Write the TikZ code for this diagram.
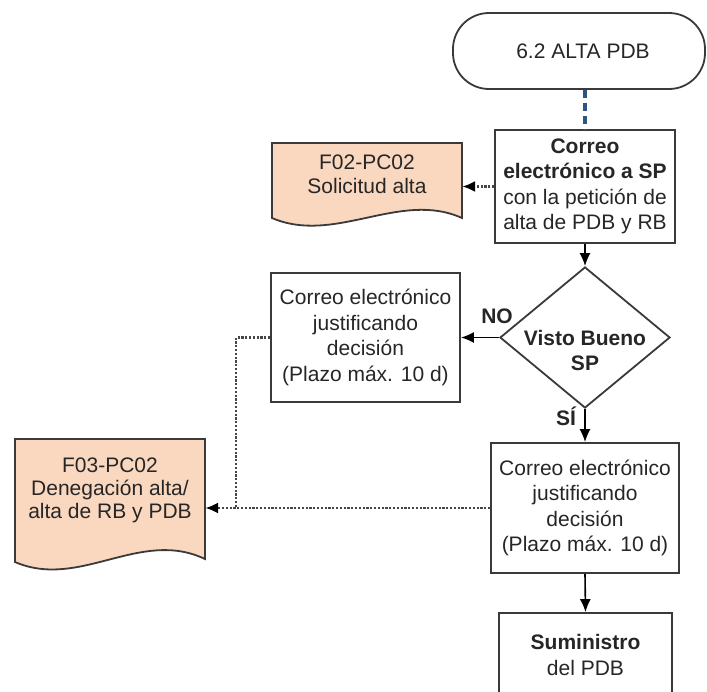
\documentclass[tikz,border=0pt]{standalone}
\usepackage{fontspec}
\setmainfont{Liberation Sans}
\usetikzlibrary{arrows.meta,shapes.geometric}
\definecolor{docfill}{RGB}{250,216,192}
\definecolor{edgegray}{RGB}{58,58,58}
\definecolor{flowblue}{RGB}{45,85,130}
\definecolor{dotgray}{RGB}{70,70,70}
\begin{document}
\begin{tikzpicture}[x=1pt,y=-1pt,
  every node/.style={font=\fontsize{21}{25.5}\selectfont, inner sep=0pt, text=black!85},
  procbox/.style={draw=edgegray, line width=1.8pt, fill=white, align=center},
  termbox/.style={draw=edgegray, line width=1.8pt, fill=white, rounded corners=36pt, align=center},
  decbox/.style={diamond, draw=edgegray, line width=1.8pt, fill=white, shape aspect=1.2},
  doctext/.style={align=center, font=\fontsize{21}{24}\selectfont},
  docshape/.style={draw=edgegray, line width=1.8pt, fill=docfill},
  flowarrow/.style={draw=black, line width=1.6pt, -{Latex[length=13pt,width=11pt]}},
  dotline/.style={draw=dotgray, line width=2.2pt, dash pattern=on 2.2pt off 1.6pt},
  dotarrow/.style={dotline, -{Latex[length=13pt,width=11pt,color=black,fill=black]}},
  blueline/.style={draw=flowblue, line width=4pt, dash pattern=on 8pt off 5pt},
  lbl/.style={font=\fontsize{21}{25.5}\selectfont\bfseries}
]
\clip (0,0) rectangle (707,691);
\fill[white] (0,0) rectangle (707,691);

% terminal
\node[termbox, minimum width=252pt, minimum height=76pt] (start) at (579,51) {\hspace*{8pt}6.2 ALTA PDB};

% box 1
\node[procbox, minimum width=180pt, minimum height=113pt] (b1) at (585,186.5)
  {\textbf{Correo}\\\textbf{electrónico a SP}\\con la petición de\\alta de PDB y RB};

% document 1
\draw[docshape] (272,143) -- (462,143) -- (462,218)
  .. controls (400,190) and (335,245) .. (272,218) -- cycle;
\node[doctext, minimum width=190pt] (d1) at (367,174.5) {F02-PC02\\Solicitud alta};

% decision
\node[decbox, minimum width=170pt, minimum height=141pt] (dia) at (585,337.5) {};
\node[align=center, font=\fontsize{21}{25}\selectfont\bfseries] (diat) at (585,350) {Visto Bueno\\SP};

% box 2
\node[procbox, minimum width=189pt, minimum height=129pt] (b2) at (365.5,337.5)
  {Correo electrónico\\justificando\\decisión\\(Plazo máx. 10 d)};

% box 3
\node[procbox, minimum width=188pt, minimum height=130pt] (b3) at (585,508)
  {Correo electrónico\\justificando\\decisión\\(Plazo máx. 10 d)};

% box 4 (cut by the lower edge)
\node[procbox, minimum width=173pt, minimum height=84pt] (b4) at (585.5,655)
  {\textbf{Suministro}\\del PDB};

% document 2
\draw[docshape] (15,439) -- (205,439) -- (205,559)
  .. controls (140,528) and (80,590) .. (15,562) -- cycle;
\node[doctext, minimum width=190pt, font=\fontsize{21}{23}\selectfont] (d2) at (110,490)
  {F03-PC02\\Denegación alta/\\alta de RB y PDB};

% connectors
\draw[blueline] (b1.north |- start.south) -- (b1.north);
\draw[dotarrow] (b1.west) -- (b1.west -| d1.east);
\draw[flowarrow] (b1.south) -- (dia.north);
\draw[flowarrow] (dia.west) -- (b2.east);
\draw[flowarrow] (dia.south) -- (b3.north);
\draw[flowarrow] (b3.south) -- (b4.north);
\coordinate (jx) at (236,0);
\coordinate (j) at (b3.west -| jx);
\draw[dotline] (b2.west) -| (j);
\draw[dotarrow] (b3.west) -- (b3.west -| d2.east);

% labels
\node[lbl] (no) at (497,316) {NO};
\node[lbl] (si) at (566,416) {SÍ};
\end{tikzpicture}
\end{document}
